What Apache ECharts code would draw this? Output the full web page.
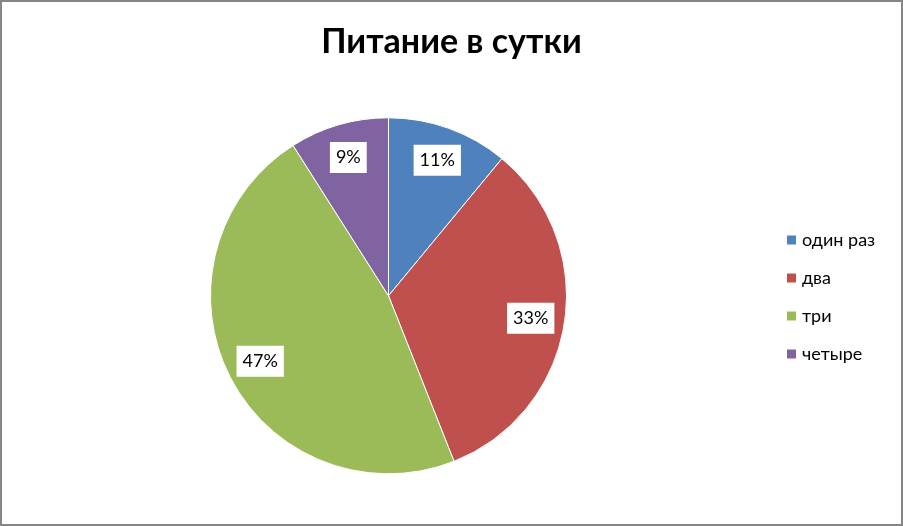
<!DOCTYPE html>
<html>
<head>
<meta charset="utf-8">
<script src="https://cdn.jsdelivr.net/npm/echarts@6/dist/echarts.min.js"></script>
<style>
html,body{margin:0;padding:0;background:#fff;}
#c{width:903px;height:526px;box-sizing:border-box;border:2px solid #868686;}
</style>
</head>
<body>
<div id="c"></div>
<script>
const categories = ['один раз', 'два', 'три', 'четыре'];
const values = [11, 33, 47, 9];
const colors = ['#4F81BD', '#C0504D', '#9BBB59', '#8064A2'];
const titleText = 'Питание в сутки';

const chart = echarts.init(document.getElementById('c'));
const data = categories.map((n, i) => ({ name: n, value: values[i], itemStyle: { color: colors[i] } }));
const FONT = 'Lato, "Open Sans", sans-serif';
const CX = 386.5, CY = 293.8;

chart.setOption({
  animation: false,
  title: {
    text: titleText,
    left: 'center',
    top: 18,
    textStyle: { fontFamily: FONT, fontSize: 34, fontWeight: 'bold', color: '#000' }
  },
  legend: {
    orient: 'vertical',
    left: 783,
    top: 229,
    padding: 0,
    itemWidth: 11,
    itemHeight: 11,
    itemGap: 20,
    icon: 'rect',
    data: categories,
    textStyle: { fontFamily: FONT, fontSize: 18, color: '#000', lineHeight: 18 }
  },
  series: [
    {
      type: 'pie',
      center: [CX, CY],
      radius: [0, 178],
      startAngle: 90,
      clockwise: true,
      silent: true,
      data: data,
      itemStyle: { borderColor: '#fff', borderWidth: 1 },
      label: { show: false },
      labelLine: { show: false }
    },
    {
      type: 'pie',
      center: [CX, CY],
      radius: [0, 282],
      startAngle: 90,
      clockwise: true,
      silent: true,
      legendHoverLink: false,
      data: categories.map((n, i) => ({ name: n, value: values[i], itemStyle: { color: 'rgba(0,0,0,0)' } })),
      itemStyle: { borderWidth: 0 },
      label: {
        show: true,
        position: 'inside',
        formatter: '{d}%',
        fontFamily: FONT,
        fontSize: 18,
        color: '#000',
        backgroundColor: '#fff',
        padding: [7, 6, 6, 6]
      },
      labelLine: { show: false }
    }
  ]
});
</script>
</body>
</html>
